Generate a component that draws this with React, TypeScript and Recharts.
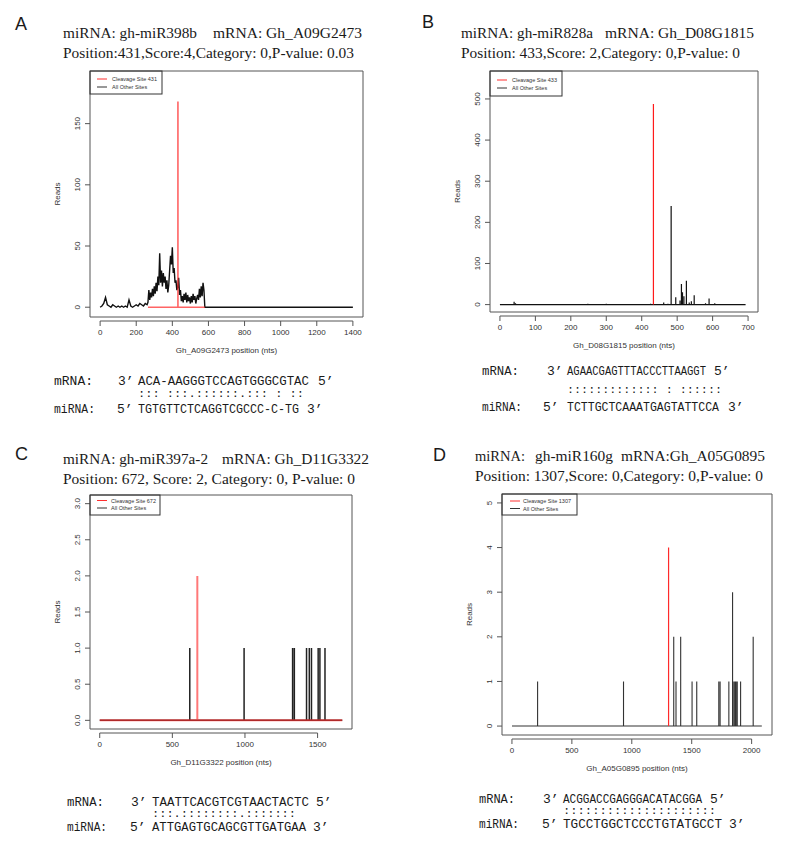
import React from 'react';
import { ComposedChart, Line, XAxis, YAxis, ReferenceArea } from 'recharts';

const FONT_SANS = '"Liberation Sans", Arial, sans-serif';
const FONT_SERIF = '"Liberation Serif", "Times New Roman", serif';
const FONT_MONO = '"Liberation Mono", "DejaVu Sans Mono", monospace';

// A: gh-miR398b on Gh_A09G2473 (read profile drawn as a line)
const posA = [
  0, 10, 20, 30, 40, 50, 60, 70, 80, 90, 100, 110, 120, 130, 140, 150, 160, 170, 180, 190, 200, 210, 220, 230, 240, 250,
  260, 265, 270, 275, 280, 285, 290, 295, 300, 305, 310, 315, 320, 325, 330, 335, 340, 345, 350, 355,
  360, 365, 370, 375, 380, 385, 390, 395, 400, 405, 410, 415, 420, 425, 430, 435, 440, 445, 450, 455,
  460, 465, 470, 475, 480, 485, 490, 495, 500, 505, 510, 515, 520, 525, 530, 535, 540, 545, 550, 555,
  560, 565, 570, 575, 580, 1400,
];
const readsA = [
  0, 1, 3, 8, 2, 1, 0, 2, 1, 0, 1, 0, 1, 0, 1, 0, 6, 1, 0, 1, 2, 1, 3, 2, 1, 3,
  2, 4, 14, 6, 12, 8, 15, 9, 17, 11, 20, 13, 25, 18, 44, 20, 30, 17, 28, 20,
  25, 15, 22, 12, 18, 30, 42, 35, 49, 28, 32, 20, 22, 14, 16, 24, 10, 14, 5, 9,
  4, 11, 6, 12, 4, 10, 5, 8, 3, 9, 4, 11, 6, 9, 3, 7, 10, 6, 15, 8,
  17, 9, 20, 14, 0, 0,
];
const siteA = [431];
const siteReadsA = [168];
const siteSpanA: [number, number] = [265, 580];

// B: gh-miR828a on Gh_D08G1815
const posB = [12, 22, 40, 44, 95, 110, 150, 248, 300, 338, 352, 365, 380, 395, 410, 425, 462, 474, 483, 496, 508, 512, 515, 519, 526, 534, 540, 548, 580, 590, 606];
const readsB = [1, 1, 7, 3, 1, 1, 1, 2, 2, 1, 1, 1, 1, 1, 1, 2, 5, 2, 240, 18, 10, 50, 30, 20, 58, 5, 8, 23, 3, 15, 3];
const spanB: [number, number] = [0, 693];
const siteB = [433];
const siteReadsB = [488];

// C: gh-miR397a-2 on Gh_D11G3322
const posC = [620, 994, 1328, 1340, 1424, 1443, 1458, 1504, 1516, 1551];
const readsC = [1, 1, 1, 1, 1, 1, 1, 1, 1, 1];
const spanC: [number, number] = [0, 1670];
const siteC = [672];
const siteReadsC = [2];

// D: gh-miR160g on Gh_A05G0895
const posD = [214, 931, 1350, 1369, 1408, 1503, 1542, 1726, 1737, 1810, 1841, 1852, 1862, 1870, 1880, 1908, 2013];
const readsD = [1, 1, 2, 1, 2, 1, 1, 1, 1, 1, 3, 1, 1, 1, 1, 1, 2];
const spanD: [number, number] = [0, 2085];
const siteD = [1307];
const siteReadsD = [4];

type Pt = { x: number; y: number };

const lineData = (pos: number[], reads: number[]): Pt[] => pos.map((x, i) => ({ x, y: reads[i] }));

// R "type h" style: every site becomes a vertical stroke up from the zero line
const spikeData = (pos: number[], reads: number[], span: [number, number]): Pt[] => {
  const pts: Pt[] = [{ x: span[0], y: 0 }];
  pos.forEach((x, i) => {
    pts.push({ x, y: 0 }, { x, y: reads[i] }, { x, y: 0 });
  });
  pts.push({ x: span[1], y: 0 });
  return pts;
};

interface PanelProps {
  box: [number, number, number, number];
  xDomain: [number, number];
  yDomain: [number, number];
  xTicks: number[];
  yTicks: number[];
  yDigits?: number;
  black: Pt[];
  red: Pt[];
  blackColor: string;
  blackWidth: number;
  redColor: string;
  redOpacity: number;
  redWidth: number;
}

const Panel: React.FC<PanelProps> = (p) => {
  const [x0, y0, x1, y1] = p.box;
  const w = x1 - x0;
  const h = y1 - y0;
  const xAxisLen = ((p.xTicks[p.xTicks.length - 1] - p.xTicks[0]) * w) / (p.xDomain[1] - p.xDomain[0]);

  const renderXTick = (props: any) => {
    const { x, y, payload, index } = props;
    return (
      <g>
        {index === 0 && <line x1={x} x2={x + xAxisLen} y1={y + 4} y2={y + 4} stroke="#555" />}
        <line x1={x} x2={x} y1={y + 4} y2={y + 9} stroke="#555" />
        <text x={x} y={y + 18} textAnchor="middle" fontSize={8} fill="#333" fontFamily={FONT_SANS}>
          {payload.value}
        </text>
      </g>
    );
  };

  const renderYTick = (props: any) => {
    const { x, y, payload } = props;
    const label = p.yDigits ? Number(payload.value).toFixed(p.yDigits) : String(payload.value);
    return (
      <g>
        <line x1={x - 5} x2={x} y1={y} y2={y} stroke="#555" />
        <text transform={`translate(${x - 10},${y}) rotate(-90)`} textAnchor="middle" fontSize={8} fill="#333" fontFamily={FONT_SANS}>
          {label}
        </text>
      </g>
    );
  };

  return (
    <div style={{ position: 'absolute', left: x0 - 45, top: y0 - 5 }}>
      <ComposedChart width={w + 50} height={h + 50} margin={{ top: 5, right: 5, bottom: 0, left: 0 }}>
        <XAxis
          type="number"
          dataKey="x"
          domain={p.xDomain}
          ticks={p.xTicks}
          interval={0}
          allowDataOverflow
          axisLine={false}
          tickLine={false}
          tickSize={0}
          tickMargin={0}
          height={45}
          tick={renderXTick}
        />
        <YAxis
          type="number"
          domain={p.yDomain}
          ticks={p.yTicks}
          interval={0}
          allowDataOverflow
          axisLine={false}
          tickLine={false}
          tickSize={0}
          tickMargin={0}
          width={45}
          tick={renderYTick}
        />
        <ReferenceArea
          x1={p.xDomain[0]}
          x2={p.xDomain[1]}
          y1={p.yDomain[0]}
          y2={p.yDomain[1]}
          fill="none"
          stroke="#555"
          strokeWidth={1}
          ifOverflow="visible"
        />
        <Line data={p.black} dataKey="y" stroke={p.blackColor} strokeWidth={p.blackWidth} dot={false} isAnimationActive={false} />
        <Line data={p.red} dataKey="y" stroke={p.redColor} strokeOpacity={p.redOpacity} strokeWidth={p.redWidth} dot={false} isAnimationActive={false} />
      </ComposedChart>
    </div>
  );
};

const T = (props: { x: number; y: number; len?: number; size: number; font: string; children: string; fill?: string }) => (
  <text
    x={props.x}
    y={props.y}
    fontSize={props.size}
    fontFamily={props.font}
    fill={props.fill || '#1a1a1a'}
    textLength={props.len}
    lengthAdjust={props.len ? 'spacingAndGlyphs' : undefined}
    style={{ whiteSpace: 'pre' }}
  >
    {props.children}
  </text>
);

const Legend = ({ x, y, w, h, lineX, redY, blackY, textX, site }: any) => (
  <g>
    <rect x={x} y={y} width={w} height={h} fill="none" stroke="#333" />
    <line x1={lineX} x2={lineX + 10} y1={redY} y2={redY} stroke="#ff3030" />
    <line x1={lineX} x2={lineX + 10} y1={blackY} y2={blackY} stroke="#333" />
    <text x={textX} y={redY + 2} fontSize={5.5} fill="#333" fontFamily={FONT_SANS}>{`Cleavage Site ${site}`}</text>
    <text x={textX} y={blackY + 2} fontSize={5.5} fill="#333" fontFamily={FONT_SANS}>All Other Sites</text>
  </g>
);

const AxisLabels = ({ box, label }: { box: [number, number, number, number]; label: string }) => {
  const [x0, y0, x1, y1] = box;
  return (
    <g fontFamily={FONT_SANS} fontSize={8} fill="#333">
      <text transform={`translate(${x0 - 30},${(y0 + y1) / 2}) rotate(-90)`} textAnchor="middle">Reads</text>
      <text x={(x0 + x1) / 2} y={y1 + 36} textAnchor="middle">{label}</text>
    </g>
  );
};

const boxA: [number, number, number, number] = [90, 71, 363, 317];
const boxB: [number, number, number, number] = [490, 71, 758, 312];
const boxC: [number, number, number, number] = [90, 495, 352, 729];
const boxD: [number, number, number, number] = [502, 494, 772, 735];

const App: React.FC = () => {
  return (
    <div style={{ position: 'absolute', left: 0, top: 0, width: 787, height: 846, background: '#fff', overflow: 'hidden' }}>
      <Panel
        box={boxA}
        xDomain={[-56, 1456]}
        yDomain={[-8, 193]}
        xTicks={[0, 200, 400, 600, 800, 1000, 1200, 1400]}
        yTicks={[0, 50, 100, 150]}
        black={lineData(posA, readsA)}
        red={spikeData(siteA, siteReadsA, siteSpanA)}
        blackColor="#111"
        blackWidth={1.4}
        redColor="#ff3030"
        redOpacity={0.75}
        redWidth={1.6}
      />
      <Panel
        box={boxB}
        xDomain={[-28, 728]}
        yDomain={[-18, 568]}
        xTicks={[0, 100, 200, 300, 400, 500, 600, 700]}
        yTicks={[0, 100, 200, 300, 400, 500]}
        black={spikeData(posB, readsB, spanB)}
        red={spikeData(siteB, siteReadsB, [siteB[0], siteB[0]])}
        blackColor="#111"
        blackWidth={1.2}
        redColor="#ff1a1a"
        redOpacity={1}
        redWidth={1.2}
      />
      <Panel
        box={boxC}
        xDomain={[-67, 1737]}
        yDomain={[-0.12, 3.12]}
        xTicks={[0, 500, 1000, 1500]}
        yTicks={[0, 0.5, 1, 1.5, 2, 2.5, 3]}
        yDigits={1}
        black={spikeData(posC, readsC, spanC)}
        red={spikeData(siteC, siteReadsC, spanC)}
        blackColor="#222"
        blackWidth={1.5}
        redColor="#ff3030"
        redOpacity={0.65}
        redWidth={2}
      />
      <Panel
        box={boxD}
        xDomain={[-83, 2170]}
        yDomain={[-0.2, 5.2]}
        xTicks={[0, 500, 1000, 1500, 2000]}
        yTicks={[0, 1, 2, 3, 4, 5]}
        black={spikeData(posD, readsD, spanD)}
        red={spikeData(siteD, siteReadsD, [siteD[0], siteD[0]])}
        blackColor="#333"
        blackWidth={1.1}
        redColor="#ff2a2a"
        redOpacity={1}
        redWidth={1.2}
      />

      <svg width={787} height={846} style={{ position: 'absolute', left: 0, top: 0, pointerEvents: 'none' }}>
        {/* panel letters */}
        <T x={15} y={30} size={18} font={FONT_SANS}>A</T>
        <T x={422} y={28} size={18} font={FONT_SANS}>B</T>
        <T x={15} y={460} size={18} font={FONT_SANS}>C</T>
        <T x={433} y={461} size={18} font={FONT_SANS}>D</T>

        {/* titles */}
        <T x={63} y={38} len={134} size={15} font={FONT_SERIF}>miRNA: gh-miR398b</T>
        <T x={213} y={38} len={149} size={15} font={FONT_SERIF}>mRNA: Gh_A09G2473</T>
        <T x={63} y={58} len={291} size={15} font={FONT_SERIF}>Position:431,Score:4,Category: 0,P-value: 0.03</T>

        <T x={461} y={38} len={132} size={15} font={FONT_SERIF}>miRNA: gh-miR828a</T>
        <T x={605} y={38} len={149} size={15} font={FONT_SERIF}>mRNA: Gh_D08G1815</T>
        <T x={461} y={58} len={279} size={15} font={FONT_SERIF}>Position: 433,Score: 2,Category: 0,P-value: 0</T>

        <T x={63} y={464} len={145} size={15} font={FONT_SERIF}>miRNA: gh-miR397a-2</T>
        <T x={222} y={464} len={147} size={15} font={FONT_SERIF}>mRNA: Gh_D11G3322</T>
        <T x={63} y={484} len={292} size={15} font={FONT_SERIF}>Position: 672, Score: 2, Category: 0, P-value: 0</T>

        <T x={475} y={461} len={50} size={15} font={FONT_SERIF}>miRNA:</T>
        <T x={535} y={461} len={78} size={15} font={FONT_SERIF}>gh-miR160g</T>
        <T x={621} y={461} len={144} size={15} font={FONT_SERIF}>mRNA:Gh_A05G0895</T>
        <T x={475} y={481} len={288} size={15} font={FONT_SERIF}>Position: 1307,Score: 0,Category: 0,P-value: 0</T>

        {/* legends */}
        <Legend x={90} y={71} w={72} h={23} lineX={97} redY={79} blackY={87} textX={112} site={431} />
        <Legend x={490} y={71} w={72} h={25} lineX={497} redY={80} blackY={88} textX={512} site={433} />
        <Legend x={90} y={495} w={70} h={20} lineX={97} redY={500.5} blackY={508} textX={111} site={672} />
        <Legend x={502} y={494} w={75} h={21} lineX={510} redY={501} blackY={508.5} textX={523} site={1307} />

        {/* axis titles */}
        <AxisLabels box={boxA} label="Gh_A09G2473 position (nts)" />
        <AxisLabels box={boxB} label="Gh_D08G1815 position (nts)" />
        <AxisLabels box={boxC} label="Gh_D11G3322 position (nts)" />
        <AxisLabels box={boxD} label="Gh_A05G0895 position (nts)" />

        {/* target alignments */}
        <T x={54} y={385} len={39} size={13} font={FONT_MONO}>mRNA:</T>
        <T x={118} y={385} size={13} font={FONT_MONO}>3’</T>
        <T x={138} y={385} len={171} size={13} font={FONT_MONO}>ACA-AAGGGTCCAGTGGGCGTAC</T>
        <T x={318} y={385} size={13} font={FONT_MONO}>5’</T>
        <T x={138} y={397} len={166} size={11} font={FONT_MONO}>::: :::.::::::.::: : ::</T>
        <T x={54} y={413} len={41} size={13} font={FONT_MONO}>miRNA:</T>
        <T x={117} y={413} size={13} font={FONT_MONO}>5’</T>
        <T x={138} y={413} len={161} size={13} font={FONT_MONO}>TGTGTTCTCAGGTCGCCC-C-TG</T>
        <T x={307} y={413} size={13} font={FONT_MONO}>3’</T>

        <T x={482} y={375} len={37} size={13} font={FONT_MONO}>mRNA:</T>
        <T x={547} y={375} size={13} font={FONT_MONO}>3’</T>
        <T x={567} y={375} len={139} size={13} font={FONT_MONO}>AGAACGAGTTTACCCTTAAGGT</T>
        <T x={714} y={375} size={13} font={FONT_MONO}>5’</T>
        <T x={567} y={393} len={155} size={11} font={FONT_MONO}>::::::::::::: : ::::::</T>
        <T x={482} y={411} len={40} size={13} font={FONT_MONO}>miRNA:</T>
        <T x={543} y={411} size={13} font={FONT_MONO}>5’</T>
        <T x={567} y={411} len={152} size={13} font={FONT_MONO}>TCTTGCTCAAATGAGTATTCCA</T>
        <T x={728} y={411} size={13} font={FONT_MONO}>3’</T>

        <T x={67} y={806} len={37} size={13} font={FONT_MONO}>mRNA:</T>
        <T x={131} y={806} size={13} font={FONT_MONO}>3’</T>
        <T x={152} y={806} len={157} size={13} font={FONT_MONO}>TAATTCACGTCGTAACTACTC</T>
        <T x={316} y={806} size={13} font={FONT_MONO}>5’</T>
        <T x={152} y={817} len={144} size={11} font={FONT_MONO}>:::.::::::::.:::::::</T>
        <T x={67} y={831} len={40} size={13} font={FONT_MONO}>miRNA:</T>
        <T x={130} y={831} size={13} font={FONT_MONO}>5’</T>
        <T x={152} y={831} len={154} size={13} font={FONT_MONO}>ATTGAGTGCAGCGTTGATGAA</T>
        <T x={313} y={831} size={13} font={FONT_MONO}>3’</T>

        <T x={479} y={803} len={36} size={13} font={FONT_MONO}>mRNA:</T>
        <T x={543} y={803} size={13} font={FONT_MONO}>3’</T>
        <T x={563} y={803} len={139} size={13} font={FONT_MONO}>ACGGACCGAGGGACATACGGA</T>
        <T x={710} y={803} size={13} font={FONT_MONO}>5’</T>
        <T x={563} y={814} len={153} size={11} font={FONT_MONO}>:::::::::::::::::::::</T>
        <T x={479} y={828} len={40} size={13} font={FONT_MONO}>miRNA:</T>
        <T x={542} y={828} size={13} font={FONT_MONO}>5’</T>
        <T x={563} y={828} len={159} size={13} font={FONT_MONO}>TGCCTGGCTCCCTGTATGCCT</T>
        <T x={729} y={828} size={13} font={FONT_MONO}>3’</T>
      </svg>
    </div>
  );
};

export default App;
